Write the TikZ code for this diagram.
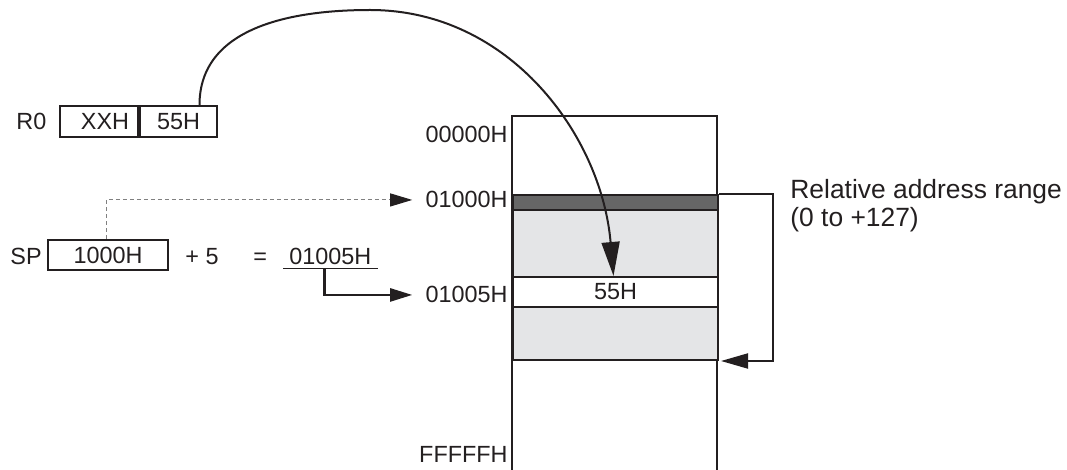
\documentclass[tikz,border=0pt]{standalone}
\usepackage{fontspec}
\setmainfont{Liberation Sans}
\usetikzlibrary{arrows.meta,calc}
\definecolor{ink}{HTML}{231F20}
\definecolor{darkband}{HTML}{666666}
\definecolor{lightband}{HTML}{E4E5E7}
\begin{document}
\begin{tikzpicture}[x=0.5pt,y=-0.5pt,
  every node/.style={font=\fontsize{11.7}{14}\selectfont, text=ink},
  txt/.style={inner sep=0pt},
  cell/.style={draw=ink, line width=1pt, inner sep=0pt, anchor=north west, minimum height=15.5pt},
  band/.style={draw=ink, line width=1pt, inner sep=0pt, anchor=north west, minimum width=102.5pt},
  hop/.style={-{Triangle[length=11pt,width=6.5pt]}, shorten >=6.5pt},
]
\useasboundingbox (0,0) rectangle (1067,470);

% register R0
\node[txt, anchor=base west] (r0) at (16,130) {R0};
\node[cell, minimum width=39pt] (r0hi) at (59,105) {\hspace*{6pt}XXH};
\node[cell, minimum width=38.5pt, anchor=north west] (r0lo) at (r0hi.north east) {55H};

% stack pointer line
\node[txt, anchor=base west] (sp) at (10,265) {SP};
\node[cell, minimum width=60pt, minimum height=15pt] (spbox) at (47,239) {1000H};
\node[txt, anchor=base west] (plus) at (185,265) {+ 5};
\node[txt, anchor=base west] (eq) at (253,265) {=};
\node[anchor=base west, inner xsep=3pt, inner ysep=1.5pt] (res) at (283,265) {01005H};
\draw[ink, line width=0.8pt] (res.south west) -- (res.south east);

% memory map
\draw[ink, line width=1pt] (512,470) -- (512,116) -- (717,116) -- (717,470);
\node[band, fill=darkband, minimum height=7.5pt] (memdark) at (512,194) {};
\node[band, fill=lightband, minimum height=33.5pt] (mem1) at (512,209) {};
\node[band, fill=white, minimum height=15pt] (mem55) at (512,276) {55H};
\node[band, fill=lightband, minimum height=26.5pt] (mem2) at (512,306) {};

% address labels
\node[txt, anchor=base east] (a0) at (508,143) {00000H};
\node[txt, anchor=base east] (a1000) at (508,208) {01000H};
\node[txt, anchor=base east] (a1005) at (508,303) {01005H};
\node[txt, anchor=base east] (aF) at (508,463) {FFFFFH};

% range label
\node[txt, anchor=base west, align=left, font=\fontsize{13.2}{14}\selectfont] (range) at (790,227) {Relative address range\\(0 to +127)};

% connectors
\draw[shorten >=6.5pt, draw=gray, line width=0.5pt, dash pattern=on 2pt off 1.5pt,
      -{Triangle[length=11pt,width=6.5pt,color=ink]}]
  ([xshift=-1pt]spbox.north) |- (a1000.west);
\draw[hop, draw=ink, line width=1.2pt] ([xshift=-3pt]res.south) |- (a1005.west);

\coordinate (arctop) at (370,10);
\draw[ink, line width=1pt, -{Triangle[length=17pt,width=9pt]}]
  ($(r0lo.north)+(21,0)$) .. controls +(0,-78) and +(-78,0) .. (arctop)
  .. controls +(140,0) and +(-12,-140) .. ([xshift=-1pt]mem55.north);

\draw[ink, line width=1pt, -{Triangle[length=13.5pt,width=7.5pt]}]
  (memdark.north east) -- ++(54,0) |- ([xshift=1pt]mem2.south east);
\end{tikzpicture}
\end{document}
